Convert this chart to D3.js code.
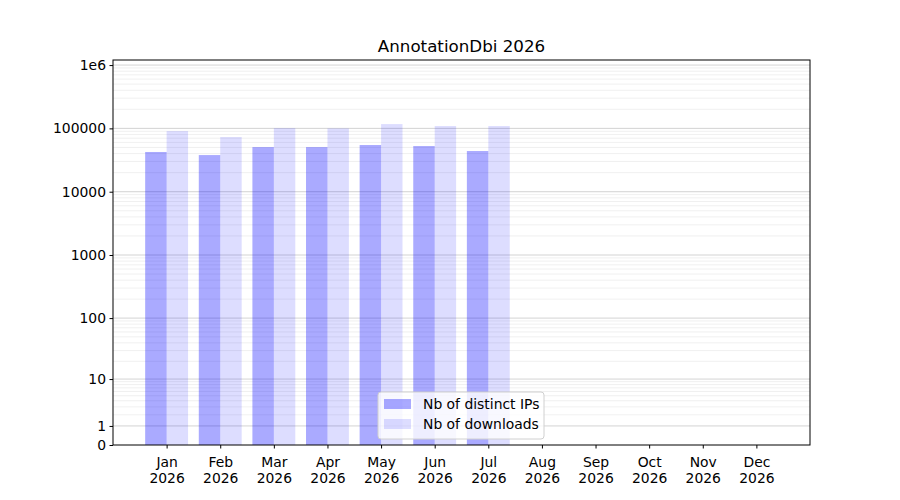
<!DOCTYPE html>
<html><head><meta charset="utf-8">
<script src="https://cdn.jsdelivr.net/npm/d3@7"></script>
<style>body{margin:0;background:#fff;} text{font-family:"DejaVu Sans",sans-serif;}</style>
</head><body><svg id="c" width="900" height="500"></svg>
<script>
const months = ["Jan","Feb","Mar","Apr","May","Jun","Jul","Aug","Sep","Oct","Nov","Dec"];
const year = "2026";
const ipsValues = [42400, 37900, 50700, 50700, 54600, 52600, 43900];
const downloadValues = [90800, 73000, 101000, 100000, 117000, 109000, 109000];
const yTickValues = [0, 1, 10, 100, 1000, 10000, 100000, 1000000];
const yTickLabels = ["0","1","10","100","1000","10000","100000","1e6"];
const seriesNames = ["Nb of distinct IPs", "Nb of downloads"];
const title = "AnnotationDbi 2026";

const svg = d3.select("#c");
const L = 113, R = 810, T = 60, B = 445;
const tf = v => Math.log10(1 + v);
const x = d3.scaleLinear().domain([-1, 12]).range([L, R]);
const yT = d3.scaleLinear().domain([0, 6.08]).range([B, T]);
const y = v => yT(tf(v));

// minor grid
const minor = [];
for (let k = 0; k <= 5; k++) for (let m = 2; m <= 9; m++) minor.push(m * Math.pow(10, k));
svg.append("g").selectAll("line").data(minor).join("line")
  .attr("x1", L).attr("x2", R).attr("y1", d => y(d)).attr("y2", d => y(d))
  .attr("stroke", "#ececec").attr("stroke-width", 0.8);
// major grid
svg.append("g").selectAll("line").data(yTickValues.slice(1)).join("line")
  .attr("x1", L).attr("x2", R).attr("y1", d => y(d)).attr("y2", d => y(d))
  .attr("stroke", "#c8c8c8").attr("stroke-width", 0.8);

const bw = 0.4;
svg.append("g").selectAll("rect").data(ipsValues).join("rect")
  .attr("x", (d, i) => x(i - bw)).attr("width", x(bw) - x(0))
  .attr("y", d => y(d)).attr("height", d => B - y(d))
  .attr("fill", "#0000ff").attr("fill-opacity", 0.333);
svg.append("g").selectAll("rect").data(downloadValues).join("rect")
  .attr("x", (d, i) => x(i)).attr("width", x(bw) - x(0))
  .attr("y", d => y(d)).attr("height", d => B - y(d))
  .attr("fill", "#0000ff").attr("fill-opacity", 0.135);

// frame
svg.append("rect").attr("x", L).attr("y", T).attr("width", R - L).attr("height", B - T)
  .attr("fill", "none").attr("stroke", "#000").attr("stroke-width", 1);

// y axis
const ya = svg.append("g").attr("transform", `translate(${L},0)`)
  .call(d3.axisLeft(yT).tickValues(yTickValues.map(tf))
    .tickFormat((d, i) => yTickLabels[i]).tickSize(3.5).tickPadding(3.5));
ya.select(".domain").remove();
ya.selectAll("text").attr("font-size", 13.9).attr("fill", "#000").attr("font-family", "DejaVu Sans");
ya.selectAll("line").attr("stroke", "#000");

// x axis
const xa = svg.append("g").attr("transform", `translate(0,${B})`)
  .call(d3.axisBottom(x).tickValues(d3.range(12)).tickFormat(() => "").tickSize(3.5));
xa.select(".domain").remove();
xa.selectAll("line").attr("stroke", "#000");
xa.selectAll(".tick").each(function(d) {
  const t = d3.select(this).append("text").attr("fill", "#000").attr("font-size", 13.9)
    .attr("text-anchor", "middle").attr("font-family", "DejaVu Sans");
  t.append("tspan").attr("x", 0).attr("y", 22).text(months[d]);
  t.append("tspan").attr("x", 0).attr("y", 38).text(year);
});

// title
svg.append("text").attr("x", (L + R) / 2).attr("y", 52).attr("text-anchor", "middle")
  .attr("font-size", 16.7).attr("fill", "#000").text(title);

// legend
const lg = svg.append("g").attr("transform", "translate(378,392)");
lg.append("rect").attr("width", 166).attr("height", 47).attr("rx", 3)
  .attr("fill", "#fff").attr("fill-opacity", 0.8).attr("stroke", "#d0d0d0");
const colors = [0.333, 0.135];
seriesNames.forEach((n, i) => {
  lg.append("rect").attr("x", 6).attr("y", 7 + i * 20).attr("width", 27).attr("height", 10)
    .attr("fill", "#0000ff").attr("fill-opacity", colors[i]);
  lg.append("text").attr("x", 45).attr("y", 17 + i * 20).attr("font-size", 13.9)
    .attr("fill", "#000").text(n);
});
</script></body></html>
